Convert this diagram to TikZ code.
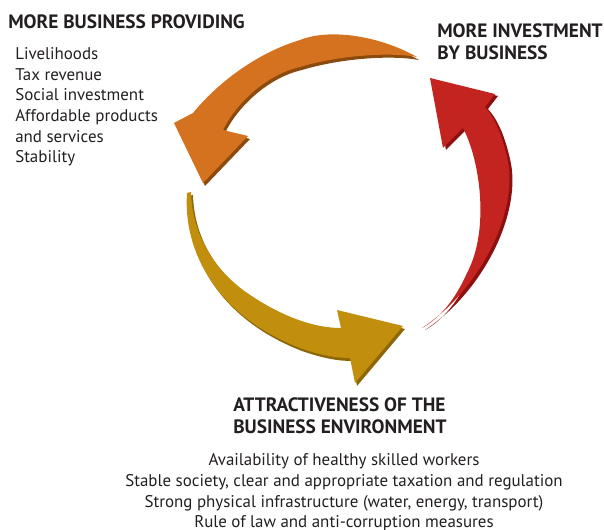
\documentclass[tikz,border=0pt]{standalone}
\usepackage{fontspec}
\setmainfont{PT Sans}
\definecolor{arroworange}{HTML}{D5721F}
\definecolor{arroworangedark}{HTML}{8B4A0E}
\definecolor{arrowred}{HTML}{C4241F}
\definecolor{arrowreddark}{HTML}{8C1010}
\definecolor{arrowgold}{HTML}{C18F0D}
\definecolor{arrowgolddark}{HTML}{8C6708}
\definecolor{textgray}{HTML}{231F20}
\begin{document}
\begin{tikzpicture}[x=0.75pt,y=-0.75pt,
    heading/.style={inner sep=0pt,font=\fontsize{14.5}{17}\selectfont\bfseries,text=textgray,align=left},
    bodytext/.style={inner sep=0pt,font=\fontsize{12.7}{15.55}\selectfont,text=textgray}]
        \useasboundingbox (0,0) rectangle (604,530);

        \fill[arroworangedark,shift={(2,3)}] (417,57) .. controls (380,36) and (330,28) .. (300,40)
            .. controls (260,52) and (220,80) .. (193,113) -- (174,123) -- (203,183) -- (248,136)
            -- (223,130) .. controls (235,105) and (265,75) .. (300,67) .. controls (340,55) and (390,52) .. (417,57) -- cycle;
        \fill[arroworange] (417,57) .. controls (380,36) and (330,28) .. (300,40)
            .. controls (260,52) and (220,80) .. (193,113) -- (174,123) -- (203,183) -- (248,136)
            -- (223,130) .. controls (235,105) and (265,75) .. (300,67) .. controls (340,55) and (390,52) .. (417,57) -- cycle;

        \fill[arrowreddark,shift={(3,2)}] (422,328) .. controls (480,290) and (520,210) .. (507,157)
            .. controls (502,135) and (495,118) .. (485,107) -- (495,94) -- (430,78) -- (443,148)
            -- (463,128) .. controls (480,160) and (490,230) .. (467,273) .. controls (455,300) and (440,318) .. (422,328) -- cycle;
        \fill[arrowred] (422,328) .. controls (480,290) and (520,210) .. (507,157)
            .. controls (502,135) and (495,118) .. (485,107) -- (495,94) -- (430,78) -- (443,148)
            -- (463,128) .. controls (480,160) and (490,230) .. (467,273) .. controls (455,300) and (440,318) .. (422,328) -- cycle;

        \fill[arrowgolddark,shift={(2,3)}] (187,193) .. controls (183,250) and (215,315) .. (300,348)
            .. controls (320,355) and (335,358) .. (350,358) -- (355,383) -- (403,326) -- (337,310)
            -- (341,328) .. controls (310,328) and (275,313) .. (243,290) .. controls (210,265) and (192,230) .. (191,192) -- cycle;
        \fill[arrowgold] (187,193) .. controls (183,250) and (215,315) .. (300,348)
            .. controls (320,355) and (335,358) .. (350,358) -- (355,383) -- (403,326) -- (337,310)
            -- (341,328) .. controls (310,328) and (275,313) .. (243,290) .. controls (210,265) and (192,230) .. (191,192) -- cycle;

        \node[heading,anchor=base west] (providing) at (8,29) {MORE BUSINESS PROVIDING};
        \node[bodytext,anchor=base west,align=left] (benefits) at (15,163) {Livelihoods\\Tax revenue\\Social investment\\Affordable products\\and services\\Stability};

        \node[heading,anchor=base west] (investment) at (437,60) {MORE INVESTMENT\\BY BUSINESS};

        \node[heading,anchor=base west] (attractive) at (233,434) {ATTRACTIVENESS OF THE\\BUSINESS ENVIRONMENT};
        \node[bodytext,anchor=base,align=center] (factors) at (344,528) {Availability of healthy skilled workers\\Stable society, clear and appropriate taxation and regulation\\Strong physical infrastructure (water, energy, transport)\\Rule of law and anti-corruption measures};

    \end{tikzpicture}
\end{document}
